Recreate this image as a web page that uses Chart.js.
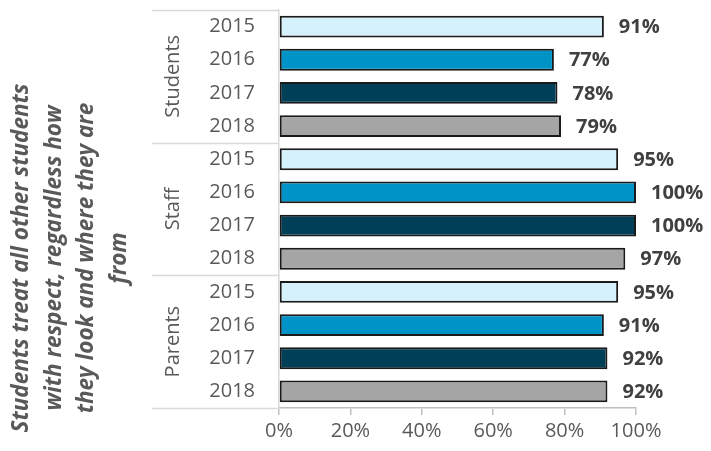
<!DOCTYPE html>
<html>
<head>
<meta charset="utf-8">
<script src="https://cdn.jsdelivr.net/npm/chart.js@4"></script>
<style>
    html, body { margin: 0; padding: 0; background: #fff; }
    #wrap { width: 711px; height: 451px; position: relative; }
</style>
</head>
<body>
<div id="wrap"><canvas id="surveyChart"></canvas></div>
<script>
// Datos de la encuesta
const groups = ['Students', 'Staff', 'Parents'];
const years = ['2015', '2016', '2017', '2018'];
const studentValues = [91, 77, 78, 79];
const staffValues = [95, 100, 100, 97];
const parentValues = [95, 91, 92, 92];
const xTicks = [0, 20, 40, 60, 80, 100];
const titleLines = [
    'Students treat all other students',
    'with respect, regardless how',
    'they look and where they are',
    'from'
];

// Colores por año
const yearColors = ['#d5f2fc', '#0093c8', '#003f58', '#a5a5a5'];

const labels = [];
const values = [];
const colors = [];
[studentValues, staffValues, parentValues].forEach(groupValues => {
    groupValues.forEach((v, i) => {
        labels.push(years[i]);
        values.push(v);
        colors.push(yearColors[i]);
    });
});

const FONT = '"Open Sans", sans-serif';
const GREY = '#595959';

// Plugin para etiquetas de grupo, separadores, título y valores
const extrasPlugin = {
    id: 'extras',
    afterDraw(chart) {
        const ctx = chart.ctx;
        const yScale = chart.scales.y;
        const area = chart.chartArea;
        const half = (yScale.getPixelForValue(1) - yScale.getPixelForValue(0)) / 2;

        ctx.save();
        // separadores entre grupos
        ctx.strokeStyle = '#d9d9d9';
        ctx.lineWidth = 1.5;
        for (let g = 0; g <= groups.length; g++) {
            const idx = g * years.length;
            const y = idx < labels.length
                ? yScale.getPixelForValue(idx) - half
                : yScale.getPixelForValue(labels.length - 1) + half;
            ctx.beginPath();
            ctx.moveTo(152, Math.round(y) + 0.5);
            ctx.lineTo(area.left, Math.round(y) + 0.5);
            ctx.stroke();
        }

        // etiquetas de grupo rotadas
        ctx.fillStyle = GREY;
        ctx.font = '20px ' + FONT;
        ctx.textAlign = 'center';
        ctx.textBaseline = 'middle';
        groups.forEach((name, g) => {
            const y0 = yScale.getPixelForValue(g * years.length);
            const y1 = yScale.getPixelForValue(g * years.length + years.length - 1);
            ctx.save();
            ctx.translate(173, (y0 + y1) / 2);
            ctx.rotate(-Math.PI / 2);
            ctx.fillText(name, 0, 0);
            ctx.restore();
        });

        // título del eje
        ctx.save();
        ctx.font = 'italic bold 22.5px ' + FONT;
        ctx.fillStyle = GREY;
        ctx.translate(0, 258);
        ctx.rotate(-Math.PI / 2);
        titleLines.forEach((line, i) => {
            ctx.fillText(line, 0, 22 + i * 32.5);
        });
        ctx.restore();

        // valores
        ctx.font = 'bold 20px ' + FONT;
        ctx.fillStyle = '#404040';
        ctx.textAlign = 'left';
        const meta = chart.getDatasetMeta(0);
        meta.data.forEach((bar, i) => {
            ctx.fillText(values[i] + '%', bar.x + 15, bar.y + 1);
        });
        ctx.restore();
    }
};

const ctx = document.getElementById('surveyChart').getContext('2d');
const surveyChart = new Chart(ctx, {
    type: 'bar',
    data: {
        labels: labels,
        datasets: [{
            data: values,
            backgroundColor: colors,
            borderColor: '#1a1a1a',
            borderWidth: 2,
            borderSkipped: false,
            barPercentage: 0.66,
            categoryPercentage: 1
        }]
    },
    options: {
        indexAxis: 'y',
        responsive: true,
        maintainAspectRatio: false,
        animation: false,
        layout: { padding: { left: 0, top: 10, right: 75, bottom: 0 } },
        plugins: {
            legend: { display: false },
            tooltip: { enabled: false }
        },
        scales: {
            x: {
                min: 0,
                max: 100,
                afterBuildTicks: scale => {
                    scale.ticks = xTicks.map(v => ({ value: v }));
                },
                afterFit: scale => {
                    scale.height = 43;
                    scale.paddingLeft = 0;
                    scale.paddingRight = 0;
                },
                grid: {
                    drawOnChartArea: false,
                    drawTicks: true,
                    tickLength: 7,
                    color: '#bfbfbf',
                    lineWidth: 1.5
                },
                border: { display: true, color: '#bfbfbf', width: 1.5 },
                ticks: {
                    color: GREY,
                    font: { family: FONT, size: 20 },
                    padding: 4,
                    callback: v => v + '%'
                }
            },
            y: {
                afterFit: scale => {
                    scale.width = 279;
                    scale.paddingTop = 0;
                    scale.paddingBottom = 0;
                },
                grid: { display: false, drawTicks: false },
                border: { display: true, color: '#d9d9d9', width: 1.5 },
                ticks: {
                    color: GREY,
                    font: { family: FONT, size: 20 },
                    padding: 24,
                    autoSkip: false
                }
            }
        }
    },
    plugins: [extrasPlugin]
});
</script>
</body>
</html>
